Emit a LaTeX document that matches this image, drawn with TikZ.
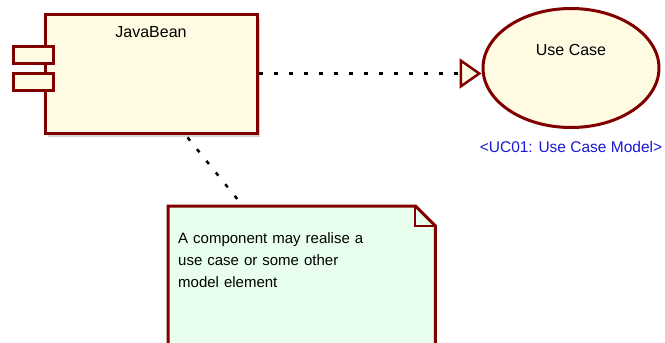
\documentclass[tikz,border=0pt]{standalone}
\usepackage{fontspec}
\setmainfont{Liberation Sans}
\usepackage{tikz}
\usetikzlibrary{arrows.meta, positioning, calc, shapes, shadows, backgrounds}
\usepackage{xcolor}
\definecolor{umlred}{RGB}{128,0,0}
\definecolor{beanfill}{RGB}{255,251,226}
\definecolor{notefill}{RGB}{232,255,238}
\definecolor{stereoblue}{RGB}{24,24,214}

\begin{document}
\begin{tikzpicture}[x=1pt, y=-1pt, font=\fontsize{15}{22}\selectfont,
    umlbox/.style={draw=umlred, line width=3pt, fill=beanfill},
    realize/.style={line width=2.5pt, dash pattern=on 4pt off 11pt}]
  \clip (0,0) rectangle (665,343);
  % Component with its two ports
  \node[umlbox, minimum width=212pt, minimum height=119pt,
        drop shadow={shadow xshift=3pt, shadow yshift=-4pt, opacity=0.35},
        label={[anchor=center, yshift=-20pt, font=\fontsize{16}{19}\selectfont]north:JavaBean}] (bean) at (151,73.5) {};
  \node[umlbox, minimum width=40pt, minimum height=17pt] (port1) at (33,55) {};
  \node[umlbox, minimum width=40pt, minimum height=17pt] (port2) at (33,82) {};
  % Use case
  \node[umlbox, ellipse, minimum width=176pt, minimum height=119pt,
        label={[yshift=18pt, font=\fontsize{16}{19}\selectfont]center:Use Case}] (uc) at (571,68) {};
  \node[stereoblue, font=\fontsize{15.5}{18}\selectfont, below=9pt of uc] (ucmodel) {<UC01: Use Case Model>};
  \draw[realize, -{Triangle[length=22pt, width=30pt, line width=2.5pt, color=umlred, fill=beanfill]}]
    (bean.east) -- (bean.east -| uc.west);
  % Note
  \node[anchor=north west, text width=247pt, inner xsep=10pt, inner ysep=26pt,
        align=left] (note) at (168,206)
    {A component may realise a\\use case or some other\\model element};
  \begin{scope}[on background layer]
    \fill[notefill] (note.north west) -- ($(note.north east)+(-20,0)$)
      -- ($(note.north east)+(0,20)$) -- ($(note.north east)+(0,170)$)
      -- ($(note.north west)+(0,170)$) -- cycle;
  \end{scope}
  \draw[umlred, line width=3pt] ($(note.north west)+(0,170)$) -- (note.north west)
    -- ($(note.north east)+(-20,0)$) -- ($(note.north east)+(0,20)$)
    -- ($(note.north east)+(0,170)$);
  \draw[umlred, line width=2pt] ($(note.north east)+(-20,0)$) -- ++(0,20) -- ++(20,0);
  \draw[realize] ($(bean.south west)!0.67!(bean.south east)+(0,3)$)
    -- ($(note.north west)!0.28!(note.north east)$);
\end{tikzpicture}
\end{document}
